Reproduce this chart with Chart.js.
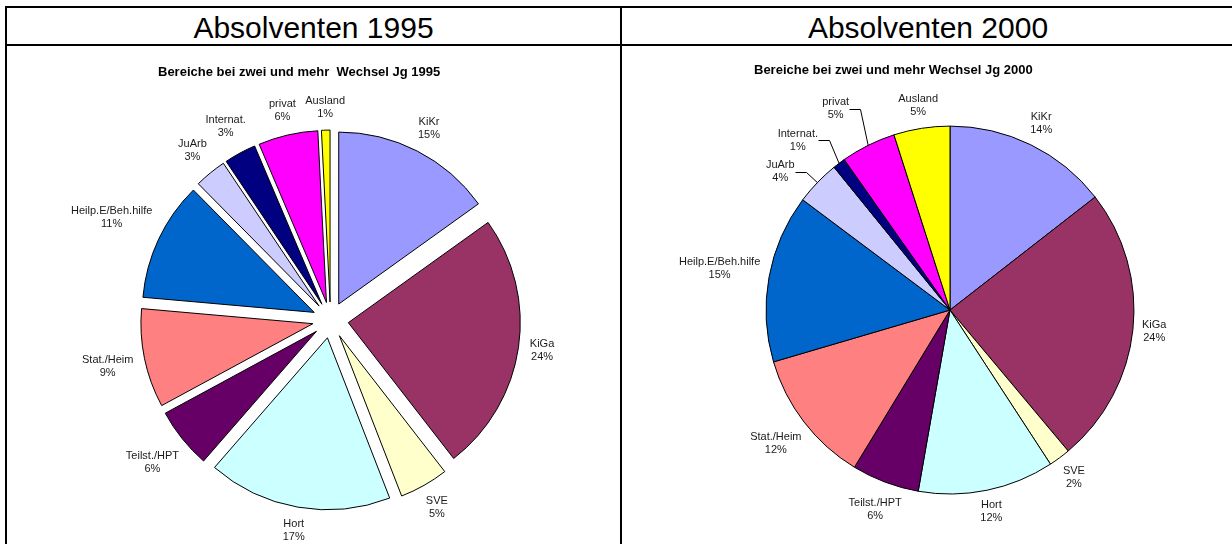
<!DOCTYPE html>
<html>
<head>
<meta charset="utf-8">
<script src="https://cdn.jsdelivr.net/npm/chart.js@4.4.0/dist/chart.umd.min.js"></script>
<style>
  body { margin: 0; background: #fff; width: 1232px; height: 544px; overflow: hidden; position: relative; font-family: "Liberation Sans", Arial, sans-serif; }
  .hline { position: absolute; left: 5px; width: 1240px; height: 2px; background: #000; }
  .vline { position: absolute; top: 6px; width: 2px; height: 560px; background: #000; }
  .head { position: absolute; top: 10px; height: 36px; line-height: 36px; text-align: center; font-size: 30px; color: #000; }
  canvas { position: absolute; }
</style>
</head>
<body>
<div class="hline" style="top:6px"></div>
<div class="hline" style="top:44px"></div>
<div class="vline" style="left:5px"></div>
<div class="vline" style="left:620px"></div>
<div class="head" style="left:7px;width:613px">Absolventen 1995</div>
<div class="head" style="left:622px;width:612px">Absolventen 2000</div>
<canvas id="pie1995" width="612" height="497" style="left:8px;top:47px"></canvas>
<canvas id="pie2000" width="610" height="497" style="left:622px;top:47px"></canvas>
<script>
const categories = ['KiKr', 'KiGa', 'SVE', 'Hort', 'Teilst./HPT', 'Stat./Heim', 'Heilp.E/Beh.hilfe', 'JuArb', 'Internat.', 'privat', 'Ausland'];
const values1995 = [15.1, 24.4, 4.6, 17.3, 5.7, 9.3, 11.2, 3.0, 3.0, 5.6, 0.8];
const values2000 = [14.4, 24.3, 1.9, 11.9, 5.9, 11.7, 14.7, 3.9, 1.1, 4.8, 4.9];
const sliceColors = ['#9999FF', '#993366', '#FFFFCC', '#CCFFFF', '#660066', '#FF8080', '#0066CC', '#CCCCFF', '#000080', '#FF00FF', '#FFFF00'];
const title1995 = 'Bereiche bei zwei und mehr  Wechsel Jg 1995';
const title2000 = 'Bereiche bei zwei und mehr Wechsel Jg 2000';

const fontFamily = '"Liberation Sans", Arial, sans-serif';

// draws exploded slices and the outside labels (name + percent)
const pieExtras = {
    id: 'pieExtras',
    beforeDatasetDraw(chart, args, opts) {
        const ctx = chart.ctx;
        const explode = opts.explode || 0;
        args.meta.data.forEach(arc => {
            const mid = (arc.startAngle + arc.endAngle) / 2;
            ctx.save();
            ctx.translate(Math.cos(mid) * explode, Math.sin(mid) * explode);
            arc.draw(ctx);
            ctx.restore();
        });
        return false;
    },
    afterDatasetsDraw(chart, args, opts) {
        const ctx = chart.ctx;
        const meta = chart.getDatasetMeta(0);
        const data = chart.data.datasets[0].data;
        const total = data.reduce((a, b) => a + b, 0);
        const explode = opts.explode || 0;
        const leaders = opts.leaders || {};
        ctx.save();
        ctx.font = '11px ' + fontFamily;
        ctx.fillStyle = '#1a1a1a';
        ctx.strokeStyle = '#000';
        ctx.lineWidth = 1;
        ctx.textAlign = 'center';
        ctx.textBaseline = 'middle';
        meta.data.forEach((arc, i) => {
            const mid = (arc.startAngle + arc.endAngle) / 2;
            const lines = [chart.data.labels[i], Math.round(data[i] / total * 100) + '%'];
            const w = Math.max(...lines.map(t => ctx.measureText(t).width));
            const rOut = arc.outerRadius + explode;
            const lead = leaders[i];
            let ang = mid, dist;
            if (lead) {
                ang = mid + lead[1] * Math.PI / 180;
                dist = rOut + lead[0];
            } else {
                dist = rOut + opts.gap + Math.abs(Math.cos(mid)) * w / 2 + Math.abs(Math.sin(mid)) * opts.halfHeight;
            }
            const cx = arc.x + Math.cos(ang) * dist;
            const cy = arc.y + Math.sin(ang) * dist;
            ctx.fillText(lines[0], cx, cy - 6.5);
            ctx.fillText(lines[1], cx, cy + 6.5);
            if (lead) {
                const x0 = Math.round(cx + w / 2) + 0.5;
                const y0 = Math.round(cy) + 0.5;
                ctx.beginPath();
                ctx.moveTo(x0, y0);
                ctx.lineTo(x0 + 11, y0);
                ctx.lineTo(arc.x + Math.cos(mid) * rOut, arc.y + Math.sin(mid) * rOut);
                ctx.stroke();
            }
        });
        ctx.restore();
    }
};

function makePie(id, values, title, pad, titlePad, extras) {
    return new Chart(document.getElementById(id), {
        type: 'pie',
        data: {
            labels: categories,
            datasets: [{
                data: values,
                backgroundColor: sliceColors,
                borderColor: '#000',
                borderWidth: 1,
                hoverBorderWidth: 1,
                offset: 0,
                hoverOffset: 0,
                clip: false
            }]
        },
        options: {
            responsive: false,
            animation: false,
            events: [],
            layout: { padding: pad },
            plugins: {
                legend: { display: false },
                tooltip: { enabled: false },
                title: {
                    display: true,
                    text: title,
                    align: 'start',
                    color: '#000',
                    font: { family: fontFamily, size: 13, weight: 'bold' },
                    padding: titlePad
                },
                pieExtras: extras
            }
        },
        plugins: [pieExtras]
    });
}

makePie('pie1995', values1995, title1995,
    { left: 150, right: 117, top: 0, bottom: 51.5 },
    { top: 18, bottom: 67 },
    { explode: 18, gap: 10, halfHeight: 12 });

makePie('pie2000', values2000, title2000,
    { left: 132, right: 86, top: 0, bottom: 49.5 },
    { top: 16, bottom: 47 },
    { explode: 0, gap: 8, halfHeight: 12, leaders: { 7: [35, -4.7], 8: [44, -4.8], 9: [47.5, -3.2] } });
</script>
</body>
</html>
